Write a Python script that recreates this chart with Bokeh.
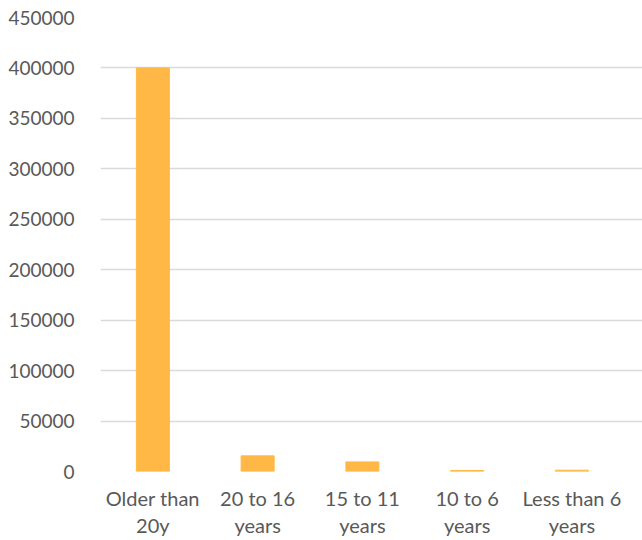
from bokeh.plotting import figure
from bokeh.models import Range1d, FixedTicker, NumeralTickFormatter
from bokeh.embed import file_html
from bokeh.resources import INLINE

# Vehicle fleet by age band
categories = ["Older than\n20y", "20 to 16\nyears", "15 to 11\nyears", "10 to 6\nyears", "Less than 6\nyears"]
counts = [400000, 15500, 9500, 1000, 1300]
y_ticks = [0, 50000, 100000, 150000, 200000, 250000, 300000, 350000, 400000, 450000]

positions = list(range(len(categories)))

p = figure(
    width=642, height=540,
    output_backend="svg", toolbar_location=None,
    x_range=Range1d(-0.5, 4.674), y_range=Range1d(0, 450000),
    min_border_left=100, min_border_right=0, min_border_top=17, min_border_bottom=69,
)
p.outline_line_color = None
p.background_fill_color = "white"
p.border_fill_color = "white"

p.vbar(x=positions, top=counts, width=0.315, color="#FFB845")

font = "Lato"
label_color = "#595959"

p.yaxis.ticker = FixedTicker(ticks=y_ticks)
p.yaxis.formatter = NumeralTickFormatter(format="0")
p.yaxis.axis_line_color = None
p.yaxis.major_tick_line_color = None
p.yaxis.minor_tick_line_color = None
p.yaxis.major_label_text_font = font
p.yaxis.major_label_text_font_size = "19px"
p.yaxis.major_label_text_color = label_color
p.yaxis.major_label_standoff = 20

p.xaxis.ticker = FixedTicker(ticks=positions)
p.xaxis.major_label_overrides = {i: c for i, c in enumerate(categories)}
p.xaxis.axis_line_color = None
p.xaxis.major_tick_line_color = None
p.xaxis.minor_tick_line_color = None
p.xaxis.major_label_text_font = font
p.xaxis.major_label_text_font_size = "20px"
p.xaxis.major_label_text_line_height = 1.15
p.xaxis.major_label_text_color = label_color
p.xaxis.major_label_standoff = 8

p.xgrid.grid_line_color = None
p.ygrid.ticker = FixedTicker(ticks=y_ticks)
p.ygrid.grid_line_color = "#D9D9D9"
p.ygrid.grid_line_width = 1.5

open("out.html", "w").write(file_html(p, INLINE))
